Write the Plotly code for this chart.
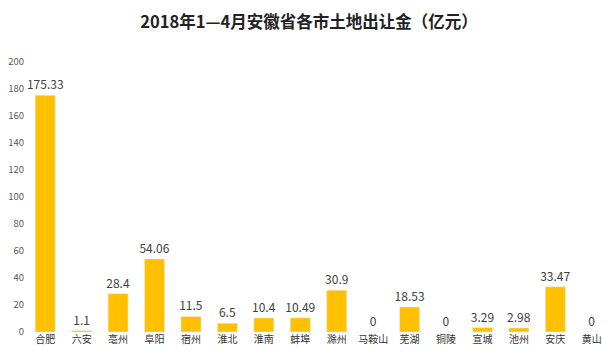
import plotly.graph_objects as go

cities = ["合肥", "六安", "亳州", "阜阳", "宿州", "淮北", "淮南", "蚌埠", "滁州", "马鞍山",
          "芜湖", "铜陵", "宣城", "池州", "安庆", "黄山"]
values = [175.33, 1.1, 28.4, 54.06, 11.5, 6.5, 10.4, 10.49, 30.9, 0,
          18.53, 0, 3.29, 2.98, 33.47, 0]
labels = ["175.33", "1.1", "28.4", "54.06", "11.5", "6.5", "10.4", "10.49", "30.9", "0",
          "18.53", "0", "3.29", "2.98", "33.47", "0"]
y_ticks = [0, 20, 40, 60, 80, 100, 120, 140, 160, 180, 200]

font_cjk = "Noto Sans CJK SC, Microsoft YaHei, sans-serif"

fig = go.Figure(go.Bar(
    x=cities, y=values, text=labels,
    textposition="outside", cliponaxis=False, constraintext="none",
    textfont=dict(size=12, color="#404040", family=font_cjk),
    marker=dict(color="#FFC000"),
))

# page body has an 8px default margin, so the figure is sized to fit inside the window
fig.update_layout(
    width=602, height=347,
    margin=dict(l=19, r=0, t=54, b=23, autoexpand=False),
    paper_bgcolor="white", plot_bgcolor="white",
    bargap=0.45,
    showlegend=False,
    title=dict(text="<b>2018年1—4月安徽省各市土地出让金（亿元）</b>",
               x=0.5, xanchor="center", y=0.958, yanchor="middle",
               font=dict(size=16.5, color="#222222", family=font_cjk)),
    font=dict(family=font_cjk),
)
fig.update_yaxes(range=[0, 200], tickvals=y_ticks, showgrid=False, zeroline=False,
                 showline=False, tickfont=dict(size=9.5, color="#595959"), ticks="",
                 ticklabelstandoff=2, automargin=False)
fig.update_xaxes(showgrid=False, showline=False, ticks="", automargin=False,
                 tickfont=dict(size=10, color="#333333"), tickangle=0)

fig.write_html("out.html")
